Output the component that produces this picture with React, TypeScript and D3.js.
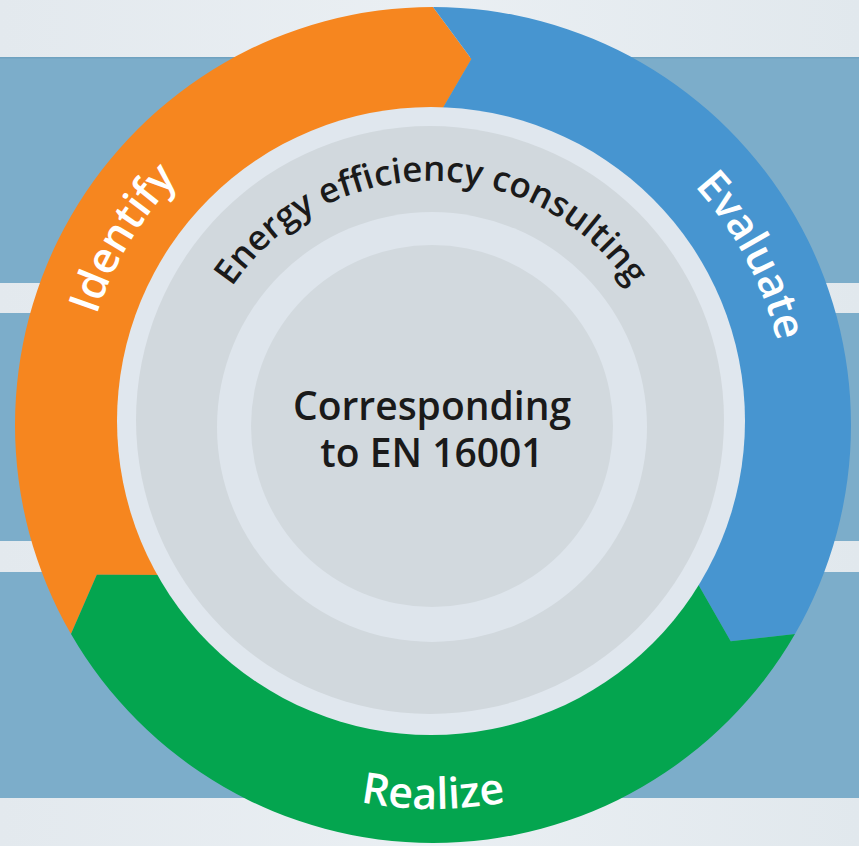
import React from "react";
import * as d3 from "d3";

// ---- data ----
const stages = ["Identify", "Evaluate", "Realize"];
const stageColors = ["#f6861f", "#4795d0", "#04a54f"];
const stageStepIndex = [0, 1, 2];
const titleText = "Energy efficiency consulting";
const centerLines = ["Corresponding", "to EN 16001"];

const W = 859;
const H = 846;

// ring geometry
const cx = 433;
const cy = 425;
const R_OUT = 418;
const R_IN = 300;
const R_TIP = 368;
const TIP_DEG = 6;

// angle scale: step index -> start angle (degrees, 0 = top, clockwise)
const angleScale = d3.scaleLinear().domain([0, 3]).range([-120, 240]);

const rad = (deg: number) => (deg * Math.PI) / 180;
const pt = (x0: number, y0: number, r: number, deg: number): [number, number] => [
  x0 + r * Math.sin(rad(deg)),
  y0 - r * Math.cos(rad(deg)),
];

function segmentPath(a0: number, a1: number) {
  const p = d3.path();
  const o0 = pt(cx, cy, R_OUT, a0);
  p.moveTo(o0[0], o0[1]);
  p.arc(cx, cy, R_OUT, rad(a0) - Math.PI / 2, rad(a1) - Math.PI / 2, false);
  const tip = pt(cx, cy, R_TIP, a1 + TIP_DEG);
  p.lineTo(tip[0], tip[1]);
  const i1 = pt(cx, cy, R_IN, a1);
  p.lineTo(i1[0], i1[1]);
  p.arc(cx, cy, R_IN, rad(a1) - Math.PI / 2, rad(a0) - Math.PI / 2, true);
  const notch = pt(cx, cy, R_TIP, a0 + TIP_DEG);
  p.lineTo(notch[0], notch[1]);
  p.closePath();
  return p.toString();
}

function textArc(x0: number, y0: number, r: number, aStart: number, aEnd: number) {
  const s = pt(x0, y0, r, aStart);
  const e = pt(x0, y0, r, aEnd);
  const large = Math.abs(aEnd - aStart) > 180 ? 1 : 0;
  const sweep = aEnd > aStart ? 1 : 0;
  return `M${s[0]},${s[1]} A${r},${r} 0 ${large} ${sweep} ${e[0]},${e[1]}`;
}

const FONT = "'Open Sans', 'Noto Sans', sans-serif";

export default function App() {
  // background stripes (layout)
  const lightBands = [
    [0, 57],
    [283, 313],
    [541, 572],
    [798, 846],
  ];
  const icx = 431;
  const icy = 421;

  const labelDefs = stages.map((name, i) => {
    const a0 = angleScale(stageStepIndex[i]);
    const a1 = angleScale(stageStepIndex[i] + 1);
    const mid = (a0 + a1) / 2 + (i === 1 ? 2 : i === 0 ? 1 : 0);
    const bottom = mid > 90 && mid < 270;
    const d = bottom
      ? textArc(cx, cy, 384, mid + 80, mid - 80)
      : textArc(cx, cy, 354, mid - 70, mid + 70);
    return { name, d, id: `lbl-${i}` };
  });

  return (
    <svg
      width={W}
      height={H}
      style={{ position: "absolute", left: 0, top: 0, display: "block" }}
    >
      <defs>
        <linearGradient id="lightGrad" x1="0" x2="1" y1="0" y2="0">
          <stop offset="0" stopColor="#e3e9ee" />
          <stop offset="0.5" stopColor="#eaeff3" />
          <stop offset="1" stopColor="#e1e8ed" />
        </linearGradient>
        {labelDefs.map((l) => (
          <path key={l.id} id={l.id} d={l.d} />
        ))}
        <path id="titleArc" d={textArc(icx, icy, 240, -95, 95)} />
      </defs>

      <rect x={0} y={0} width={W} height={H} fill="#7cadca" />
      {lightBands.map(([y0, y1], i) => (
        <rect key={i} x={0} y={y0} width={W} height={y1 - y0} fill="url(#lightGrad)" />
      ))}
      <rect x={0} y={57} width={W} height={1.5} fill="#6fa2c0" />

      {stages.map((s, i) => (
        <path
          key={s}
          d={segmentPath(angleScale(stageStepIndex[i]), angleScale(stageStepIndex[i] + 1))}
          fill={stageColors[i]}
        />
      ))}

      <circle cx={icx} cy={icy} r={314} fill="#e0e7ee" />
      <circle cx={430} cy={420} r={294} fill="#d1d8dd" />
      <circle cx={432} cy={427} r={215} fill="#dee5ec" />
      <circle cx={432} cy={426} r={181} fill="#d2d9de" />

      {labelDefs.map((l) => (
        <text
          key={l.id}
          fontFamily={FONT}
          fontSize={43}
          fontWeight={600}
          fill="#ffffff"
        >
          <textPath href={`#${l.id}`} startOffset="50%" textAnchor="middle">
            {l.name}
          </textPath>
        </text>
      ))}

      <text fontFamily={FONT} fontSize={35} fontWeight={600} fill="#1a1a1a">
        <textPath href="#titleArc" startOffset="50%" textAnchor="middle">
          {titleText}
        </textPath>
      </text>

      <text
        textAnchor="middle"
        fontFamily={FONT}
        fontSize={39}
        fontWeight={600}
        fill="#1a1a1a"
      >
        {centerLines.map((t, i) => (
          <tspan key={t} x={432} y={420 + i * 47}>
            {t}
          </tspan>
        ))}
      </text>
    </svg>
  );
}
